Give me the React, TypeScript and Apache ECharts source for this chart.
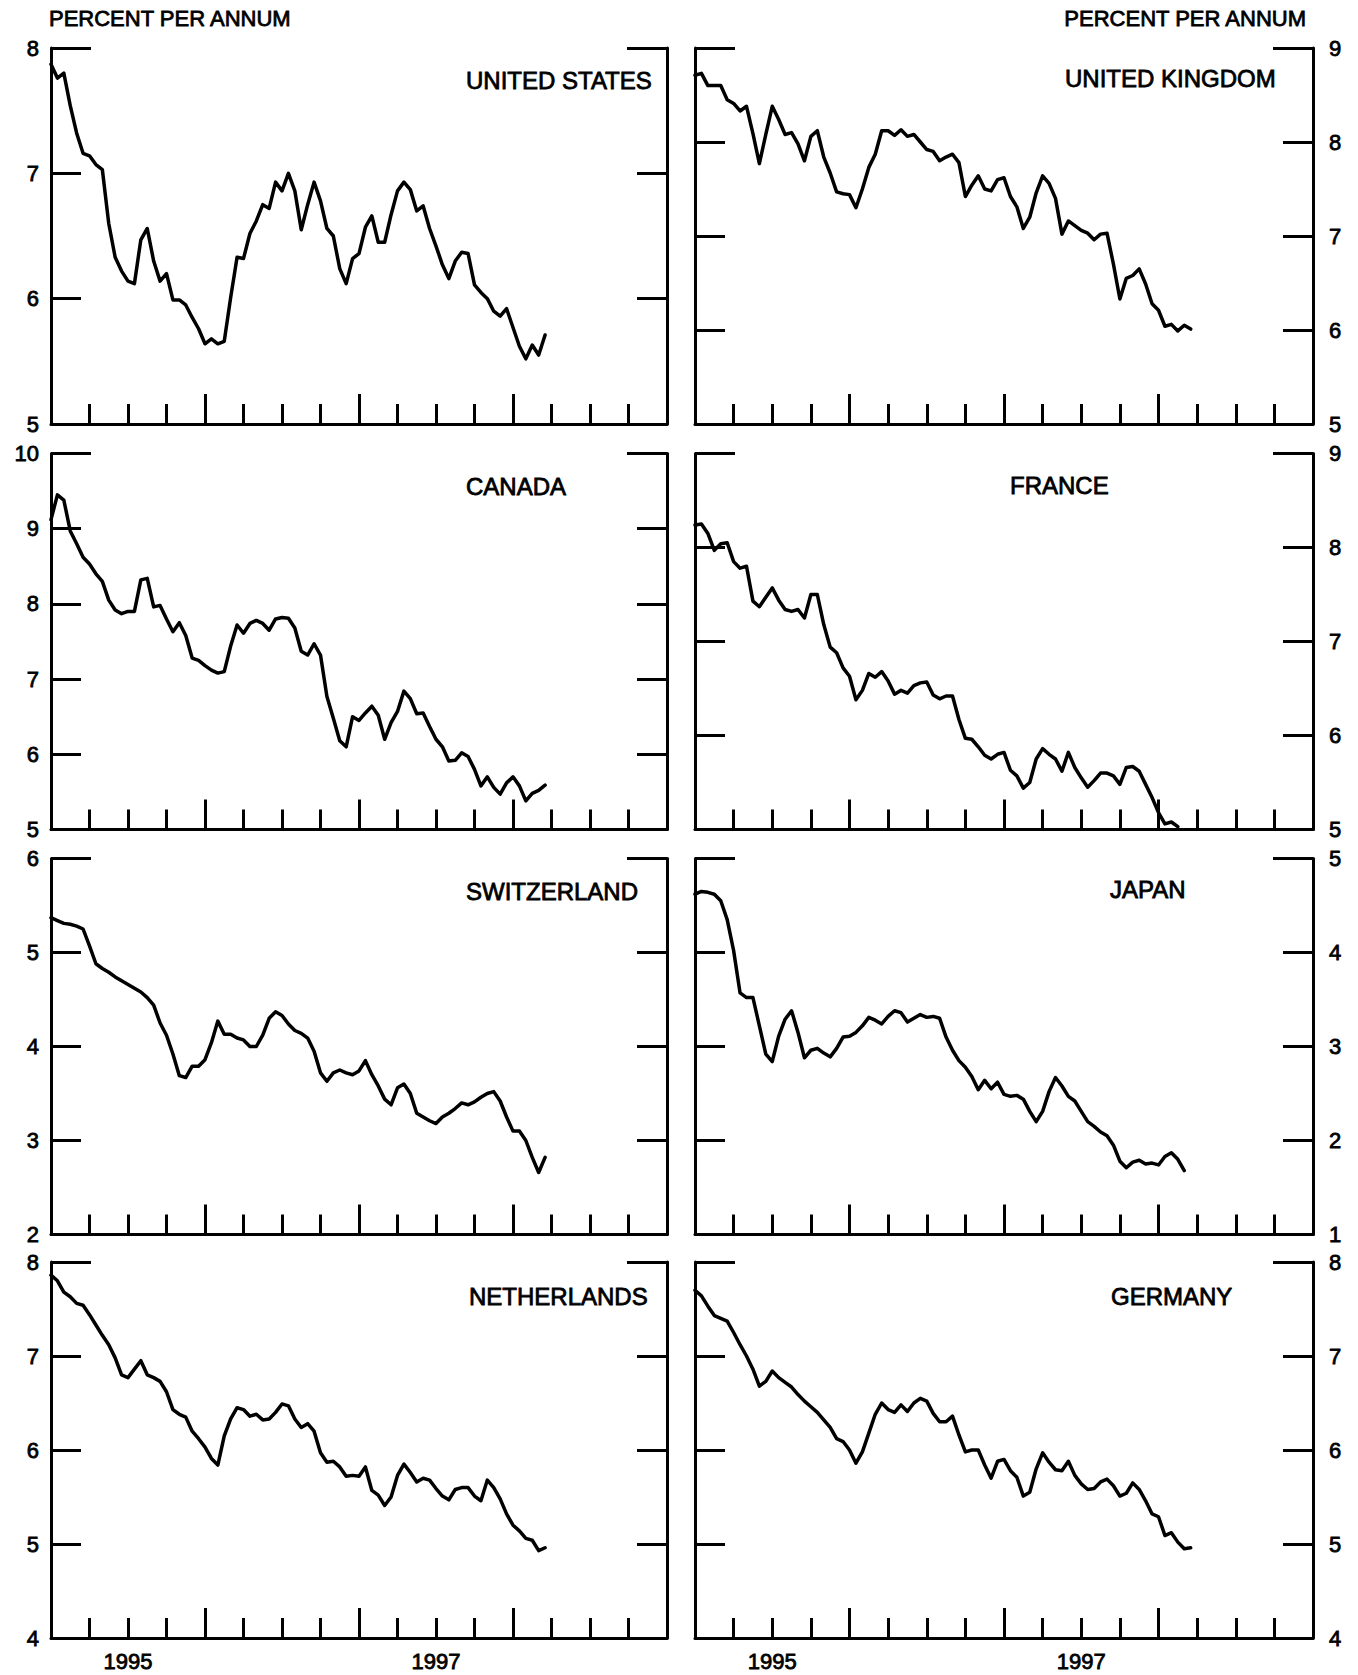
import React, { useEffect, useRef } from "react";
import * as echarts from "echarts";

// ---------------- data ----------------
// x = months since January 1995; one value every half month
const MONTHS_PER_POINT = 0.5;
const X_MIN = 0;
const X_MAX = 48;
const YEAR_LABELS = ["1995", "1996", "1997", "1998"];

const US_VALUES = [
  7.87, 7.76, 7.8, 7.54, 7.32, 7.16, 7.14, 7.07, 7.03, 6.6,
  6.33, 6.22, 6.14, 6.12, 6.47, 6.56, 6.3, 6.14, 6.2, 5.99,
  5.99, 5.95, 5.85, 5.76, 5.64, 5.68, 5.64, 5.66, 6.01, 6.33,
  6.32, 6.52, 6.62, 6.75, 6.72, 6.93, 6.86, 7.0, 6.86, 6.55,
  6.75, 6.93, 6.78, 6.56, 6.5, 6.24, 6.12, 6.32, 6.36, 6.57,
  6.66, 6.45, 6.45, 6.67, 6.86, 6.93, 6.87, 6.7, 6.74, 6.56,
  6.42, 6.27, 6.16, 6.3, 6.37, 6.36, 6.11, 6.05, 6.0, 5.9,
  5.86, 5.92, 5.77, 5.62, 5.52, 5.63, 5.55, 5.71,
];
const UK_VALUES = [
  8.71, 8.73, 8.6, 8.6, 8.6, 8.45, 8.41, 8.33, 8.38, 8.09,
  7.77, 8.08, 8.38, 8.24, 8.08, 8.1, 7.98, 7.8, 8.06, 8.12,
  7.84, 7.67, 7.47, 7.45, 7.44, 7.3, 7.5, 7.73, 7.87, 8.12,
  8.12, 8.07, 8.13, 8.06, 8.08, 8.0, 7.92, 7.9, 7.8, 7.84,
  7.87, 7.78, 7.42, 7.54, 7.64, 7.5, 7.48, 7.6, 7.62, 7.42,
  7.31, 7.08, 7.2, 7.46, 7.64, 7.56, 7.4, 7.02, 7.16, 7.11,
  7.06, 7.03, 6.96, 7.02, 7.03, 6.7, 6.33, 6.55, 6.58, 6.65,
  6.49, 6.28, 6.21, 6.04, 6.06, 5.99, 6.05, 6.01,
];
const CANADA_VALUES = [
  9.12, 9.45, 9.38, 8.97, 8.8, 8.62, 8.53, 8.4, 8.3, 8.05,
  7.92, 7.87, 7.9, 7.9, 8.32, 8.34, 7.96, 7.98, 7.8, 7.63,
  7.75, 7.58, 7.28, 7.25, 7.18, 7.12, 7.08, 7.1, 7.44, 7.72,
  7.61, 7.74, 7.78, 7.74, 7.65, 7.8, 7.82, 7.81, 7.68, 7.37,
  7.32, 7.47, 7.32, 6.77, 6.48, 6.18, 6.1, 6.5, 6.45, 6.55,
  6.64, 6.52, 6.2, 6.42, 6.57, 6.84, 6.74, 6.54, 6.55, 6.37,
  6.2, 6.1, 5.91, 5.92, 6.02, 5.97, 5.8, 5.58, 5.7, 5.56,
  5.47, 5.62, 5.7, 5.58, 5.38, 5.48, 5.52, 5.59,
];
const FRANCE_VALUES = [
  8.24, 8.25, 8.15, 7.97, 8.04, 8.05, 7.85, 7.78, 7.8, 7.43,
  7.37, 7.47, 7.57, 7.44, 7.34, 7.32, 7.34, 7.25, 7.5, 7.5,
  7.18, 6.94, 6.88, 6.72, 6.63, 6.38, 6.48, 6.66, 6.62, 6.68,
  6.58, 6.44, 6.48, 6.45, 6.53, 6.56, 6.57, 6.43, 6.39, 6.42,
  6.42, 6.17, 5.97, 5.96, 5.88, 5.79, 5.75, 5.8, 5.82, 5.63,
  5.57, 5.44, 5.5, 5.75, 5.86, 5.8, 5.75, 5.62, 5.82, 5.66,
  5.55, 5.45, 5.52, 5.6, 5.6, 5.57, 5.48, 5.66, 5.67, 5.62,
  5.48, 5.34, 5.18, 5.06, 5.08, 5.03,
];
const SWITZERLAND_VALUES = [
  5.37, 5.34, 5.31, 5.3, 5.28, 5.25, 5.07, 4.88, 4.83, 4.79,
  4.74, 4.7, 4.66, 4.62, 4.58, 4.52, 4.44, 4.25, 4.12, 3.92,
  3.69, 3.67, 3.79, 3.79, 3.86, 4.04, 4.27, 4.13, 4.13, 4.09,
  4.07, 4.0, 4.0, 4.12, 4.3, 4.37, 4.33, 4.24, 4.17, 4.14,
  4.09, 3.95, 3.72, 3.63, 3.72, 3.75, 3.72, 3.7, 3.74, 3.85,
  3.7, 3.58, 3.44, 3.38, 3.56, 3.6, 3.5, 3.29, 3.25, 3.21,
  3.18, 3.25, 3.29, 3.34, 3.4, 3.38, 3.41, 3.46, 3.5, 3.52,
  3.42, 3.25, 3.1, 3.1, 3.0, 2.82, 2.66, 2.82,
];
const JAPAN_VALUES = [
  4.62, 4.65, 4.64, 4.62, 4.55, 4.35, 4.02, 3.57, 3.52, 3.52,
  3.22, 2.92, 2.84, 3.11, 3.29, 3.38, 3.15, 2.88, 2.96, 2.98,
  2.93, 2.89, 2.98, 3.1, 3.11, 3.15, 3.22, 3.31, 3.28, 3.24,
  3.32, 3.38, 3.36, 3.26, 3.3, 3.34, 3.31, 3.32, 3.3, 3.1,
  2.96, 2.85, 2.78, 2.68, 2.54, 2.64, 2.55, 2.62, 2.49, 2.47,
  2.48, 2.44, 2.31, 2.2, 2.31, 2.52, 2.67, 2.58, 2.47, 2.42,
  2.31, 2.2, 2.15, 2.09, 2.05, 1.95, 1.78, 1.71, 1.77, 1.79,
  1.75, 1.76, 1.74, 1.83, 1.87, 1.8, 1.68,
];
const NETHERLANDS_VALUES = [
  7.86, 7.8, 7.68, 7.63, 7.56, 7.54, 7.44, 7.33, 7.22, 7.12,
  6.98, 6.8, 6.77, 6.86, 6.95, 6.8, 6.77, 6.73, 6.62, 6.43,
  6.38, 6.35, 6.2, 6.12, 6.03, 5.91, 5.84, 6.15, 6.33, 6.45,
  6.43, 6.36, 6.38, 6.32, 6.33, 6.4, 6.49, 6.47, 6.33, 6.24,
  6.28, 6.2, 5.97, 5.87, 5.88, 5.82, 5.72, 5.73, 5.72, 5.82,
  5.57, 5.52, 5.41, 5.5, 5.73, 5.85, 5.76, 5.66, 5.7, 5.68,
  5.59, 5.51, 5.47, 5.58, 5.6, 5.6, 5.51, 5.46, 5.68, 5.6,
  5.48, 5.32, 5.2, 5.14, 5.06, 5.04, 4.93, 4.96,
];
const GERMANY_VALUES = [
  7.7, 7.64, 7.53, 7.43, 7.4, 7.37, 7.25, 7.12, 7.0, 6.86,
  6.68, 6.73, 6.84, 6.77, 6.72, 6.67, 6.59, 6.52, 6.46, 6.4,
  6.32, 6.24, 6.12, 6.09, 6.0, 5.86, 5.98, 6.18, 6.38, 6.5,
  6.43, 6.4, 6.48, 6.41, 6.5, 6.55, 6.52, 6.39, 6.3, 6.3,
  6.36, 6.16, 5.98, 6.0, 6.0, 5.84, 5.7, 5.88, 5.9, 5.78,
  5.71, 5.51, 5.55, 5.8, 5.97, 5.87, 5.79, 5.78, 5.88, 5.73,
  5.64, 5.58, 5.59, 5.66, 5.69, 5.62, 5.51, 5.54, 5.65, 5.58,
  5.46, 5.32, 5.29, 5.09, 5.12, 5.02, 4.95, 4.96,
];

const PANELS = [
  { title: "UNITED STATES", values: US_VALUES, min: 5, max: 8, col: 0, row: 0 },
  { title: "UNITED KINGDOM", values: UK_VALUES, min: 5, max: 9, col: 1, row: 0 },
  { title: "CANADA", values: CANADA_VALUES, min: 5, max: 10, col: 0, row: 1 },
  { title: "FRANCE", values: FRANCE_VALUES, min: 5, max: 9, col: 1, row: 1 },
  { title: "SWITZERLAND", values: SWITZERLAND_VALUES, min: 2, max: 6, col: 0, row: 2 },
  { title: "JAPAN", values: JAPAN_VALUES, min: 1, max: 5, col: 1, row: 2 },
  { title: "NETHERLANDS", values: NETHERLANDS_VALUES, min: 4, max: 8, col: 0, row: 3 },
  { title: "GERMANY", values: GERMANY_VALUES, min: 4, max: 8, col: 1, row: 3 },
];
const UNIT_LABEL = "PERCENT PER ANNUM";

// ---------------- layout ----------------
const W = 1358;
const H = 1675;
const COL_LEFT = [51, 695];
const COL_WIDTH = [616, 618];
const ROW_TOP = [48, 453.5, 858.5, 1262];
const ROW_H = 376;
// title anchor (left x, centre y) per panel
const TITLE_POS = [
  [466, 80],
  [1065, 78],
  [466, 486],
  [1010, 485],
  [466, 891],
  [1110, 889],
  [469, 1296],
  [1111, 1296],
];

const INK = "#000";
const FONT = "'Liberation Sans', Arial, Helvetica, sans-serif";
const LINE = { color: INK, width: 3 };
const TEXT_BOLDEN = 0.8;

function buildOption() {
  const grid: any[] = [];
  const xAxis: any[] = [];
  const yAxis: any[] = [];
  const series: any[] = [];
  const graphic: any[] = [];

  const labelStyle = {
    fontSize: 22,
    fontFamily: FONT,
    color: INK,
    textBorderColor: INK,
    textBorderWidth: TEXT_BOLDEN,
  };

  PANELS.forEach((p, g) => {
    const left = COL_LEFT[p.col];
    const width = COL_WIDTH[p.col];
    const top = ROW_TOP[p.row];
    const isBottom = p.row === 3;
    grid.push({ left, top, width, height: ROW_H, containLabel: false });

    // data axis with quarterly ticks
    xAxis.push({
      gridIndex: g,
      type: "value",
      min: X_MIN,
      max: X_MAX,
      interval: 3,
      position: "bottom",
      axisLine: { show: true, onZero: false, lineStyle: LINE },
      axisTick: { show: true, inside: true, length: 20, lineStyle: LINE },
      axisLabel: { show: false },
      splitLine: { show: false },
    });
    // year bands: long ticks at year boundaries, year labels in the middle
    xAxis.push({
      gridIndex: g,
      type: "category",
      data: YEAR_LABELS,
      boundaryGap: true,
      position: "bottom",
      axisLine: { show: false, onZero: false },
      axisTick: { show: true, inside: true, length: 30, interval: 0, alignWithLabel: false, lineStyle: LINE },
      axisLabel: { show: isBottom, interval: 1, margin: 12, ...labelStyle },
      splitLine: { show: false },
    });

    const labelSide = p.col === 0 ? "left" : "right";
    const otherSide = p.col === 0 ? "right" : "left";
    const yBase = {
      gridIndex: g,
      type: "value",
      min: p.min,
      max: p.max,
      interval: 1,
      splitLine: { show: false },
    };
    yAxis.push({
      ...yBase,
      position: labelSide,
      axisLine: { show: true, onZero: false, lineStyle: LINE },
      axisTick: { show: true, inside: true, length: 30, lineStyle: LINE },
      axisLabel: { show: true, margin: p.col === 0 ? 12 : 16, ...labelStyle },
    });
    yAxis.push({
      ...yBase,
      position: otherSide,
      axisLine: { show: true, onZero: false, lineStyle: LINE },
      axisTick: { show: true, inside: true, length: 30, lineStyle: LINE },
      axisLabel: { show: false },
    });
    // longer corner stubs at the top of both vertical axes
    ["left", "right"].forEach((side) => {
      yAxis.push({
        ...yBase,
        position: side,
        axisLine: { show: false, onZero: false },
        axisTick: { show: true, inside: true, length: 40, customValues: [p.max], lineStyle: LINE },
        axisLabel: { show: false },
      });
    });

    series.push({
      type: "line",
      name: p.title,
      xAxisIndex: 2 * g,
      yAxisIndex: 4 * g,
      data: p.values.map((v, i) => [i * MONTHS_PER_POINT, v]),
      showSymbol: false,
      symbol: "none",
      silent: true,
      lineStyle: { color: INK, width: 3.5, join: "round", cap: "round" },
    });

    graphic.push({
      type: "text",
      x: TITLE_POS[g][0],
      y: TITLE_POS[g][1],
      style: {
        text: p.title,
        fill: INK,
        stroke: INK,
        lineWidth: TEXT_BOLDEN,
        fontSize: 24,
        fontFamily: FONT,
        align: "left",
        verticalAlign: "middle",
      },
    });
  });

  const unitStyle = {
    text: UNIT_LABEL,
    fill: INK,
    stroke: INK,
    lineWidth: TEXT_BOLDEN,
    fontSize: 22,
    fontFamily: FONT,
    verticalAlign: "middle",
  };
  graphic.push({ type: "text", x: 49, y: 18, style: { ...unitStyle, align: "left" } });
  graphic.push({ type: "text", x: 1306, y: 18, style: { ...unitStyle, align: "right" } });

  return {
    animation: false,
    backgroundColor: "#fff",
    grid,
    xAxis,
    yAxis,
    series,
    graphic,
  };
}

export default function App() {
  const ref = useRef<HTMLDivElement>(null);
  useEffect(() => {
    if (!ref.current) return;
    const chart = echarts.init(ref.current, null, { renderer: "svg" });
    chart.setOption(buildOption());
    return () => chart.dispose();
  }, []);
  return (
    <div
      ref={ref}
      style={{ position: "absolute", left: 0, top: 0, width: W, height: H, background: "#fff" }}
    />
  );
}
